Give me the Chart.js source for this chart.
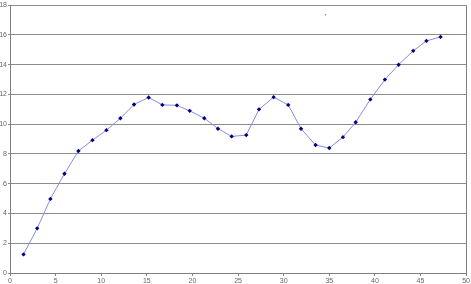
<!DOCTYPE html>
<html><head><meta charset="utf-8">
<script src="https://cdn.jsdelivr.net/npm/chart.js@4/dist/chart.umd.min.js"></script>
<style>html,body{margin:0;padding:0;background:#fff}#w{width:471px;height:284px}</style>
</head><body><div id="w"><canvas id="c" width="471" height="284"></canvas></div>
<script>
const xValues = [1.48,2.98,4.43,5.97,7.5,9.04,10.57,12.1,13.6,15.2,16.7,18.3,19.7,21.3,22.8,24.3,25.9,27.3,28.9,30.5,31.9,33.5,35.0,36.5,37.9,39.5,41.1,42.6,44.2,45.65,47.2];
const yValues = [1.25,3.0,4.98,6.67,8.2,8.93,9.6,10.4,11.33,11.8,11.3,11.27,10.9,10.4,9.7,9.18,9.27,11.0,11.82,11.3,9.7,8.6,8.4,9.13,10.13,11.67,13.0,14.0,14.93,15.6,15.87];
const strayPoint = [{x:34.6, y:17.35}];
const xTicks = {min:0, max:50, step:5};
const yTicks = {min:0, max:18, step:2};

const pts = xValues.map((x,i)=>({x, y:yValues[i]}));
const borderPlugin = {
  id:'border',
  afterDraw(chart){
    const {ctx, chartArea:a} = chart;
    ctx.save();
    ctx.strokeStyle='#808080'; ctx.lineWidth=1;
    ctx.beginPath();
    ctx.moveTo(Math.round(a.right)+0.5, a.top);
    ctx.lineTo(Math.round(a.right)+0.5, a.bottom);
    ctx.stroke();
    ctx.restore();
  }
};
new Chart(document.getElementById('c'), {
  type:'scatter',
  data:{datasets:[
    {data:pts, showLine:true, borderColor:'#8a8ae6', borderWidth:1, pointStyle:'rectRot', pointRadius:2.2, pointBackgroundColor:'#000080', pointBorderColor:'#000080', pointBorderWidth:0, tension:0},
    {data:strayPoint, showLine:false, pointStyle:'rect', pointRadius:0.7, pointBackgroundColor:'#000', pointBorderColor:'#000', pointBorderWidth:0}
  ]},
  options:{
    responsive:false, animation:false, devicePixelRatio:1,
    layout:{padding:{top:2, right:4, left:0, bottom:0}},
    plugins:{legend:{display:false}, tooltip:{enabled:false}},
    scales:{
      x:{type:'linear', min:xTicks.min, max:xTicks.max,
        ticks:{stepSize:xTicks.step, color:'#666', font:{family:'Liberation Sans', size:7}, padding:1, maxRotation:0},
        grid:{drawOnChartArea:false, drawTicks:true, tickLength:3, color:'#808080'},
        border:{color:'#808080'},
        afterFit(s){s.height=11;}
      },
      y:{min:yTicks.min, max:yTicks.max,
        ticks:{stepSize:yTicks.step, color:'#666', font:{family:'Liberation Sans', size:7}, padding:1},
        grid:{color:'#8c8c8c', tickLength:2, drawTicks:true},
        border:{color:'#808080'},
        afterFit(s){s.width=10;}
      }
    }
  },
  plugins:[borderPlugin]
});
</script></body></html>
